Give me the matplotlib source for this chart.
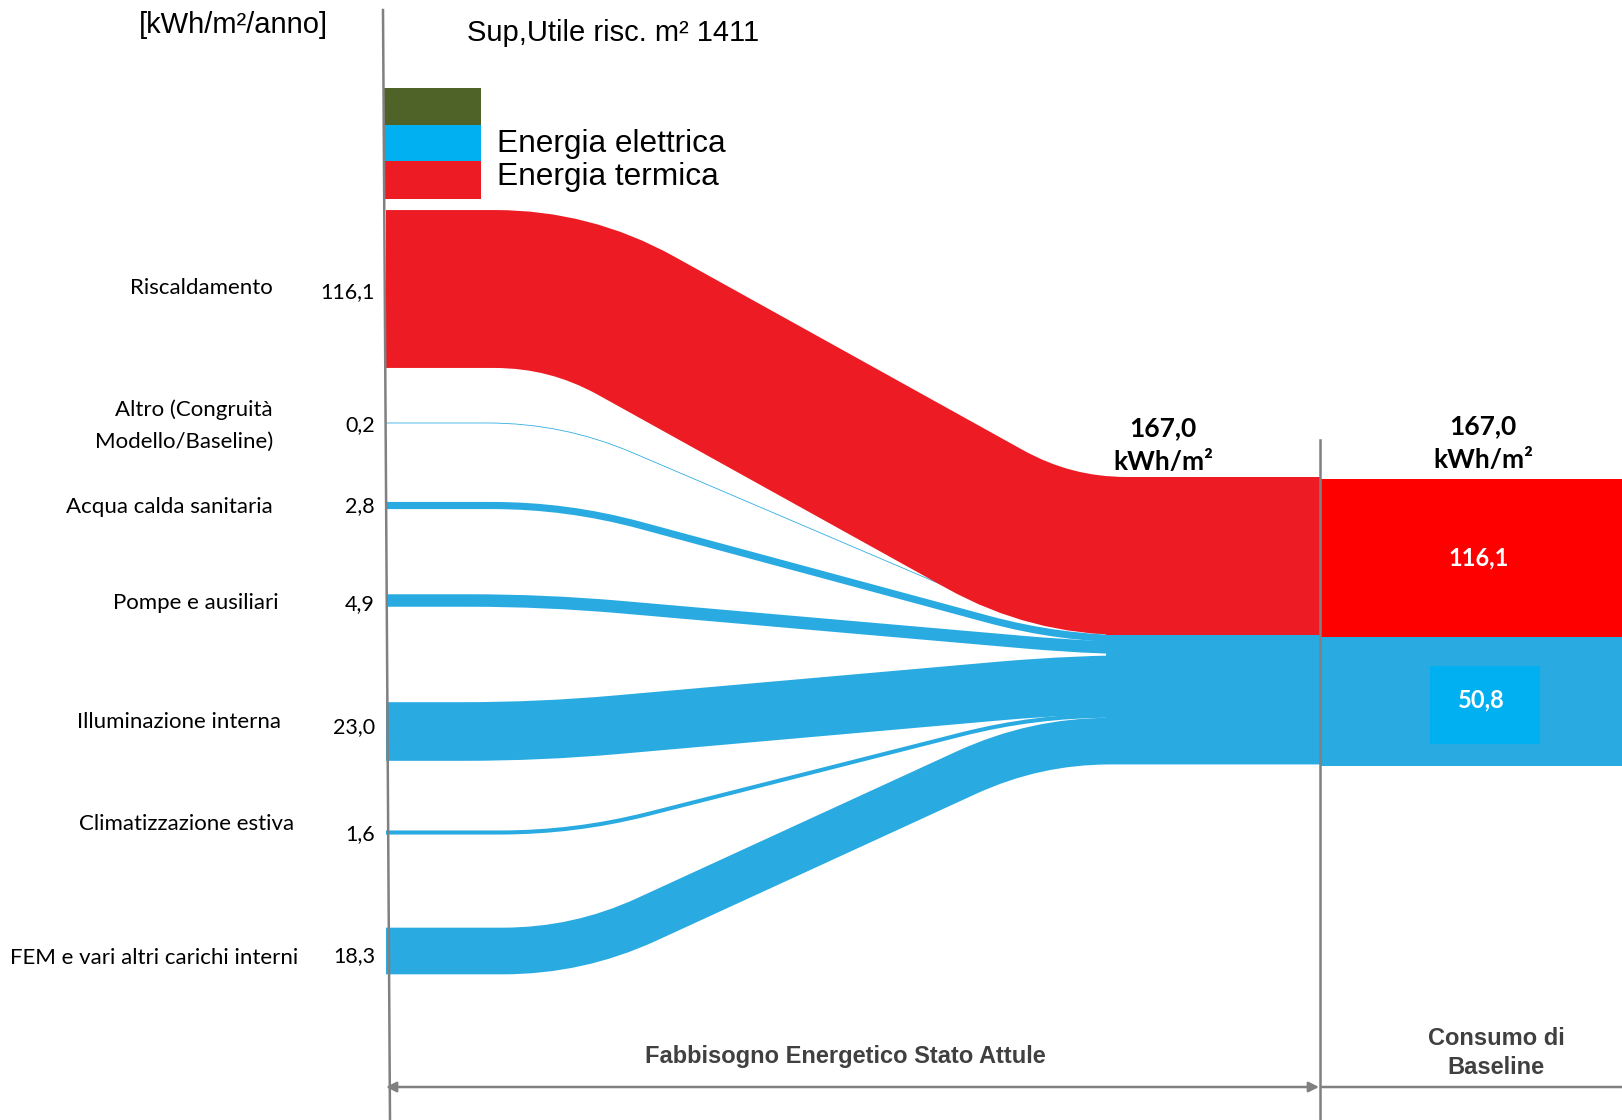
import numpy as np
import matplotlib.pyplot as plt
from matplotlib.path import Path
from matplotlib.patches import PathPatch, Rectangle

# Fabbisogno per uso finale [kWh/m²/anno]
voci = ["Riscaldamento", "Altro (Congruità\nModello/Baseline)", "Acqua calda sanitaria",
        "Pompe e ausiliari", "Illuminazione interna", "Climatizzazione estiva",
        "FEM e vari altri carichi interni"]
valori = [116.1, 0.2, 2.8, 4.9, 23.0, 1.6, 18.3]
vettore = ["termica", "elettrica", "elettrica", "elettrica", "elettrica", "elettrica", "elettrica"]

# Consumo di baseline per vettore
baseline_vettori = ["termica", "elettrica"]
baseline_valori = [116.1, 50.8]
totale_attuale = 167.0
totale_baseline = 167.0
superficie = 1411

legenda = ["", "Energia elettrica", "Energia termica"]


def fmt(v):
    return f"{v:.1f}".replace(".", ",")


# --- impaginazione (coordinate in pixel) ---
W, H = 1622, 1120
fig = plt.figure(figsize=(W / 100, H / 100), dpi=100)
ax = fig.add_axes([0, 0, 1, 1])
ax.set_xlim(0, W)
ax.set_ylim(H, 0)
ax.axis("off")

PT = 72 / 100  # pixel -> punti
px_unit = {"termica": 1.36, "elettrica": 2.55}
col_flusso = {"termica": "#ED1C24", "elettrica": "#29ABE2"}
col_base = {"termica": "#FF0000", "elettrica": "#29ABE2"}

x_start, x_div, x_merge = 386, 1320, 1106
y_left = [289, 423, 505.5, 600.5, 731.5, 832.5, 951]
curve_x = [(570, 1051), (563, 1060), (567, 1061), (545, 1100), (540, 1075), (575, 1035), (578, 1035)]
label_x = [273, 273, 273, 279, 281, 294, 298]
label_y = [288, 426, 507, 603, 722, 824, 958]
value_y = [292, 425, 506, 604, 727, 834, 956]
y_top_dx = 477
y_top_base = 479

FONT_LBL = ["Lato", "DejaVu Sans"]
FONT_ARIAL = ["Liberation Sans", "DejaVu Sans"]


def flow_path(y0, y1, xa, xb, r=75):
    ux, uy = xb - xa, y1 - y0
    n = np.hypot(ux, uy)
    ux, uy = ux / n, uy / n
    verts = [(x_start, y0), (xa - r, y0), (xa, y0), (xa + r * ux, y0 + r * uy),
             (xb - r * ux, y1 - r * uy), (xb, y1), (xb + r, y1), (x_div, y1)]
    codes = [Path.MOVETO, Path.LINETO, Path.CURVE3, Path.CURVE3,
             Path.LINETO, Path.CURVE3, Path.CURVE3, Path.LINETO]
    return Path(verts, codes)


# posizione a destra: flussi impilati
y_right = []
y = y_top_dx
for v, k in zip(valori, vettore):
    t = v * px_unit[k]
    y_right.append(y + t / 2)
    y += t

# prima i flussi elettrici, poi il termico sopra
ordine = [i for i in range(len(valori)) if vettore[i] == "elettrica"] + \
         [i for i in range(len(valori)) if vettore[i] == "termica"]
for i in ordine:
    k = vettore[i]
    spessore = max(valori[i] * px_unit[k], 0.8)
    p = flow_path(y_left[i], y_right[i], *curve_x[i])
    ax.add_patch(PathPatch(p, facecolor="none", edgecolor=col_flusso[k],
                           lw=spessore * PT, capstyle="butt", joinstyle="round", zorder=2))

# tratto finale dei flussi riunito per vettore (niente fessure tra le bande)
y = y_top_dx
for k in ["termica", "elettrica"]:
    tot = sum(v for v, kk in zip(valori, vettore) if kk == k) * px_unit[k]
    ax.bar(x_merge, tot, width=x_div - x_merge, bottom=y, align="edge",
           color=col_flusso[k], lw=0, zorder=2.5)
    y += tot

# etichette a sinistra
for i, voce in enumerate(voci):
    ax.text(label_x[i], label_y[i], voce, ha="right", va="center", fontsize=16,
            family=FONT_LBL, linespacing=1.75, color="black")
    ax.text(375, value_y[i], fmt(valori[i]), ha="right", va="center", fontsize=15.5,
            family=FONT_LBL, color="black")

# barra di baseline
b = y_top_base
for k, v in zip(baseline_vettori, baseline_valori):
    ax.bar(x_div, v * px_unit[k], width=W - x_div, bottom=b, align="edge",
           color=col_base[k], lw=0, zorder=2)
    b += v * px_unit[k]
ax.add_patch(Rectangle((1430, 666), 110, 78, facecolor="#00B0F0", lw=0, zorder=3))
ax.text(1479, 558, fmt(baseline_valori[0]), ha="center", va="center", fontsize=17,
        family=FONT_LBL, weight="bold", color="white", zorder=4)
ax.text(1481, 700, fmt(baseline_valori[1]), ha="center", va="center", fontsize=17,
        family=FONT_LBL, weight="bold", color="white", zorder=4)

# totali
ax.text(1163, 445, f"{fmt(totale_attuale)}\nkWh/m²", ha="center", va="center", fontsize=19,
        family=FONT_LBL, weight="bold", linespacing=1.5)
ax.text(1483, 443, f"{fmt(totale_baseline)}\nkWh/m²", ha="center", va="center", fontsize=19,
        family=FONT_LBL, weight="bold", linespacing=1.5)

# legenda
leg_col = ["#4F6228", "#00B0F0", "#ED1C24"]
leg_y = [88, 125, 161]
leg_h = [37, 36, 38]
leg_ty = [0, 144, 177]
for c, y0, h, t, ty in zip(leg_col, leg_y, leg_h, legenda, leg_ty):
    ax.add_patch(Rectangle((384, y0), 97, h, facecolor=c, lw=0, zorder=2))
    if t:
        ax.text(497, ty, t, ha="left", va="center", fontsize=22.8, family=FONT_ARIAL)

ax.text(233, 25, "[kWh/m²/anno]", ha="center", va="center", fontsize=21, family=FONT_ARIAL)
ax.text(467, 33, f"Sup,Utile risc. m² {superficie}", ha="left", va="center", fontsize=21,
        family=FONT_ARIAL)

# assi e separatori
grigio = "#808080"
ax.plot([383, 390], [10, 1120], color=grigio, lw=1.8, zorder=5)
ax.plot([x_div, x_div], [440, 1120], color=grigio, lw=1.8, zorder=5)

ax.annotate("", xy=(386, 1087), xytext=(x_div - 1, 1087),
            arrowprops=dict(arrowstyle="<|-|>", color=grigio, lw=1.8, mutation_scale=15,
                            shrinkA=0, shrinkB=0))
ax.annotate("", xy=(x_div + 2, 1087), xytext=(W + 30, 1087),
            arrowprops=dict(arrowstyle="<|-", color=grigio, lw=1.8, mutation_scale=15,
                            shrinkA=0, shrinkB=0))

ax.text(845, 1057, "Fabbisogno Energetico Stato Attule", ha="center", va="center",
        fontsize=17, family=FONT_ARIAL, weight="bold", color="#404040")
ax.text(1496, 1053, "Consumo di\nBaseline", ha="center", va="center", fontsize=17,
        family=FONT_ARIAL, weight="bold", color="#404040", linespacing=1.35)

fig.savefig("out.png", dpi=100)
